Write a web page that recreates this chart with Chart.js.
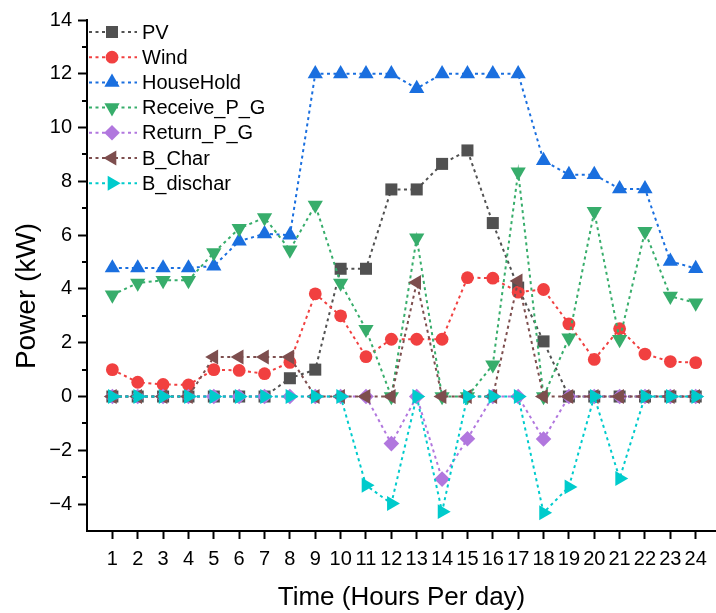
<!DOCTYPE html>
<html>
<head>
<meta charset="utf-8">
<title>Power per hour</title>
<script src="https://cdn.jsdelivr.net/npm/chart.js@4.4.1/dist/chart.umd.min.js"></script>
<style>
    html, body { margin: 0; padding: 0; background: #fff; }
</style>
</head>
<body>
<canvas id="powerChart" width="716" height="613"></canvas>
<script>
const hours = [1, 2, 3, 4, 5, 6, 7, 8, 9, 10, 11, 12, 13, 14, 15, 16, 17, 18, 19, 20, 21, 22, 23, 24];
const yTickValues = [-4, -2, 0, 2, 4, 6, 8, 10, 12, 14];
const yMinorValues = [-3, -1, 1, 3, 5, 7, 9, 11, 13];

const seriesNames = ['PV', 'Wind', 'HouseHold', 'Receive_P_G', 'Return_P_G', 'B_Char', 'B_dischar'];
const pv = [0, 0, 0, 0, 0, 0, 0, 0.68, 1.0, 4.75, 4.75, 7.7, 7.7, 8.65, 9.15, 6.45, 4.05, 2.05, 0, 0, 0, 0, 0, 0];
const wind = [1.0, 0.53, 0.45, 0.43, 1.0, 0.97, 0.85, 1.27, 3.82, 3.0, 1.48, 2.13, 2.13, 2.13, 4.42, 4.4, 3.88, 3.98, 2.7, 1.38, 2.52, 1.58, 1.3, 1.26];
const houseHold = [4.78, 4.78, 4.78, 4.78, 4.85, 5.78, 6.05, 6.0, 12.0, 12.0, 12.0, 12.0, 11.45, 12.0, 12.0, 12.0, 12.0, 8.77, 8.25, 8.25, 7.72, 7.72, 5.03, 4.76];
const receivePG = [3.78, 4.22, 4.32, 4.32, 5.35, 6.25, 6.65, 5.45, 7.12, 4.22, 2.5, 0, 5.9, 0, 0, 1.18, 8.35, 0, 2.18, 6.88, 2.12, 6.14, 3.73, 3.48];
const returnPG = [0, 0, 0, 0, 0, 0, 0, 0, 0, 0, 0, -1.75, 0, -3.07, -1.57, 0, 0, -1.58, 0, 0, 0, 0, 0, 0];
const bChar = [0, 0, 0, 0, 1.47, 1.47, 1.47, 1.47, 0, 0, 0, 0, 4.24, 0, 0, 0, 4.3, 0, 0, 0, 0, 0, 0, 0];
const bDischar = [0, 0, 0, 0, 0, 0, 0, 0, 0, 0, -3.3, -3.98, 0, -4.28, 0, 0, 0, -4.32, -3.36, 0, -3.05, 0, 0, 0];

const colors = ['#515151', '#F14040', '#1A6FDF', '#37AD6B', '#B177DE', '#7D4E4E', '#00CBCC'];
const pointStyles = ['rect', 'circle', 'triangle', 'triangle', 'rectRot', 'triangle', 'triangle'];
const pointRotations = [0, 0, 0, 180, 0, 270, 90];
const pointSizes = [8.5, 6.4, 8.8, 8.8, 7.8, 8.6, 8.6];

const FONT = "'Liberation Sans', Arial, Helvetica, sans-serif";

const allValues = [pv, wind, houseHold, receivePG, returnPG, bChar, bDischar];

const datasets = allValues.map((values, i) => ({
    label: seriesNames[i],
    data: values.map((v, j) => ({ x: hours[j], y: v })),
    borderColor: colors[i],
    backgroundColor: colors[i],
    borderWidth: 2,
    borderDash: [3, 3.5],
    pointStyle: pointStyles[i],
    rotation: pointRotations[i],
    pointRadius: pointSizes[i],
    pointHoverRadius: pointSizes[i],
    pointBorderWidth: 0,
    tension: 0,
    fill: false,
    clip: false,
    order: allValues.length - i
}));

// minor ticks on the y axis + y axis title (Origin puts it a bit below centre)
const yAxisExtras = {
    id: 'yAxisExtras',
    afterDraw(chart) {
        const ctx = chart.ctx;
        const y = chart.scales.y;
        ctx.save();
        ctx.strokeStyle = '#000';
        ctx.lineWidth = 2;
        yMinorValues.forEach(v => {
            const py = Math.round(y.getPixelForValue(v));
            ctx.beginPath();
            ctx.moveTo(y.right - 5, py);
            ctx.lineTo(y.right, py);
            ctx.stroke();
        });
        ctx.translate(27, 296);
        ctx.rotate(-Math.PI / 2);
        ctx.fillStyle = '#000';
        ctx.font = '28px ' + FONT;
        ctx.textAlign = 'center';
        ctx.textBaseline = 'middle';
        ctx.fillText('Power (kW)', 0, 0);
        ctx.restore();
    }
};

// Origin-style legend: dotted line with the marker in the middle
const lineLegend = {
    id: 'lineLegend',
    afterDraw(chart) {
        const ctx = chart.ctx;
        ctx.save();
        chart.data.datasets.forEach((ds, i) => {
            const cy = 32 + i * 25.2;
            ctx.strokeStyle = ds.borderColor;
            ctx.lineWidth = 2;
            ctx.setLineDash([3, 3.5]);
            ctx.beginPath();
            ctx.moveTo(89, cy);
            ctx.lineTo(137, cy);
            ctx.stroke();
            ctx.setLineDash([]);
            ctx.fillStyle = ds.backgroundColor;
            Chart.helpers.drawPoint(ctx, {
                pointStyle: ds.pointStyle,
                rotation: ds.rotation,
                radius: ds.pointRadius,
                borderWidth: 0
            }, 112, cy);
            ctx.fillStyle = '#000';
            ctx.font = '20px ' + FONT;
            ctx.textBaseline = 'middle';
            ctx.textAlign = 'left';
            ctx.fillText(ds.label, 142, cy + 1);
        });
        ctx.restore();
    }
};

new Chart(document.getElementById('powerChart'), {
    type: 'line',
    data: { datasets: datasets },
    options: {
        responsive: false,
        animation: false,
        devicePixelRatio: 1,
        layout: { autoPadding: false, padding: { top: 20, right: 0, left: 0, bottom: 0 } },
        plugins: {
            legend: { display: false },
            tooltip: { enabled: false }
        },
        scales: {
            x: {
                type: 'linear',
                min: 0,
                max: 24.8,
                afterBuildTicks: s => { s.ticks = hours.map(v => ({ value: v })); },
                afterFit: s => {
                    s.height = 82;
                    s.paddingLeft = 0;
                    s.paddingRight = 0;
                },
                grid: { drawOnChartArea: false, tickLength: 8, tickWidth: 2, tickColor: '#000' },
                border: { color: '#000', width: 2 },
                ticks: {
                    color: '#000',
                    font: { family: FONT, size: 20 },
                    padding: 8,
                    maxRotation: 0,
                    autoSkip: false
                },
                title: {
                    display: true,
                    text: 'Time (Hours Per day)',
                    color: '#000',
                    font: { family: FONT, size: 26 },
                    padding: 0
                }
            },
            y: {
                min: -5,
                max: 14,
                afterBuildTicks: s => { s.ticks = yTickValues.map(v => ({ value: v })); },
                afterFit: s => { s.width = 87; },
                grid: { drawOnChartArea: false, tickLength: 9, tickWidth: 2, tickColor: '#000' },
                border: { color: '#000', width: 2 },
                ticks: {
                    color: '#000',
                    font: { family: FONT, size: 20 },
                    padding: 6,
                    callback: v => (v < 0 ? '\u2212' + Math.abs(v) : String(v))
                }
            }
        }
    },
    plugins: [yAxisExtras, lineLegend]
});
</script>
</body>
</html>
